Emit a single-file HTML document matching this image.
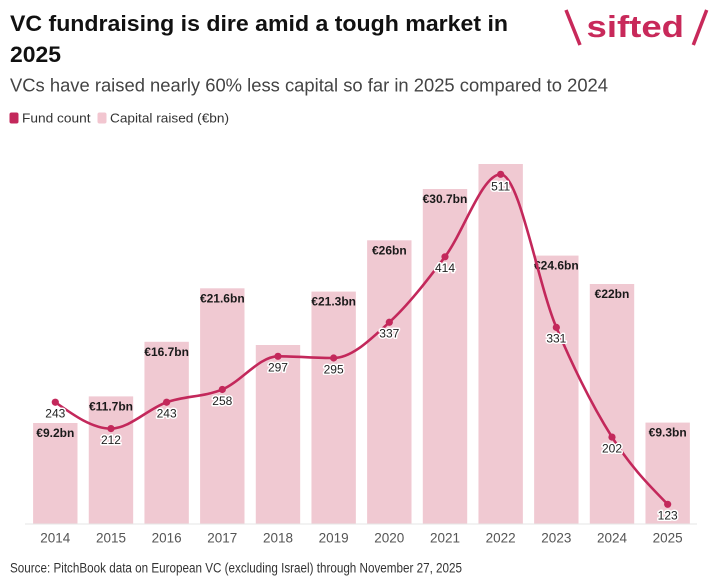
<!DOCTYPE html>
<html>
<head>
<meta charset="utf-8">
<style>
  html, body { margin: 0; padding: 0; background: #ffffff; }
  body { width: 720px; height: 578px; overflow: hidden; }
  svg { display: block; }
  text { font-family: "Liberation Sans", "DejaVu Sans", sans-serif; }
</style>
</head>
<body>
<svg width="720" height="578" viewBox="0 0 720 578" xmlns="http://www.w3.org/2000/svg">
  <rect x="0" y="0" width="720" height="578" fill="#ffffff"/>

  <!-- Title -->
  <text x="10" y="31" font-size="22" font-weight="bold" fill="#111111" textLength="498" lengthAdjust="spacingAndGlyphs">VC fundraising is dire amid a tough market in</text>
  <text x="10" y="62" font-size="22" font-weight="bold" fill="#111111" textLength="51" lengthAdjust="spacingAndGlyphs">2025</text>

  <!-- Subtitle -->
  <text x="10" y="91.7" font-size="18.5" fill="#444444" textLength="598" lengthAdjust="spacingAndGlyphs">VCs have raised nearly 60% less capital so far in 2025 compared to 2024</text>

  <!-- Legend -->
  <rect x="9.5" y="112.5" width="9" height="11" rx="2" fill="#c3285b"/>
  <text x="22" y="122.3" font-size="13" fill="#333333" textLength="68.5" lengthAdjust="spacingAndGlyphs">Fund count</text>
  <rect x="97.5" y="112.5" width="9" height="11" rx="2" fill="#f2c6d0"/>
  <text x="110" y="122.3" font-size="13" fill="#333333" textLength="119" lengthAdjust="spacingAndGlyphs">Capital raised (€bn)</text>

  <!-- Logo -->
  <line x1="566" y1="10" x2="580" y2="45" stroke="#c8295a" stroke-width="3.5" stroke-linecap="butt"/>
  <text x="586.5" y="37" font-size="31" font-weight="bold" fill="#c8295a" textLength="97.5" lengthAdjust="spacingAndGlyphs">sifted</text>
  <line x1="706.7" y1="10" x2="693.3" y2="45" stroke="#c8295a" stroke-width="3.5" stroke-linecap="butt"/>

  <!-- Bars -->
  <g fill="#f0c9d2">
    <rect x="33.1" y="423" width="44.4" height="101"/>
    <rect x="88.77" y="396.4" width="44.4" height="127.6"/>
    <rect x="144.44" y="341.8" width="44.4" height="182.2"/>
    <rect x="200.11" y="288.3" width="44.4" height="235.7"/>
    <rect x="255.78" y="345" width="44.4" height="179"/>
    <rect x="311.45" y="291.6" width="44.4" height="232.4"/>
    <rect x="367.12" y="240.3" width="44.4" height="283.7"/>
    <rect x="422.79" y="189" width="44.4" height="335"/>
    <rect x="478.46" y="164" width="44.4" height="360"/>
    <rect x="534.13" y="255.6" width="44.4" height="268.4"/>
    <rect x="589.8" y="284" width="44.4" height="240"/>
    <rect x="645.47" y="422.6" width="44.4" height="101.4"/>
  </g>

  <!-- Axis line -->
  <line x1="25" y1="524" x2="697" y2="524" stroke="#e6e6e6" stroke-width="1"/>

  <!-- Bar labels -->
  <g font-size="12" font-weight="bold" fill="#1a1a1a" text-anchor="middle">
    <text x="55.3" y="437">€9.2bn</text>
    <text x="110.97" y="410.4">€11.7bn</text>
    <text x="166.64" y="355.8">€16.7bn</text>
    <text x="222.31" y="302.3">€21.6bn</text>
    <text x="333.65" y="305.6">€21.3bn</text>
    <text x="389.32" y="254.3">€26bn</text>
    <text x="444.99" y="203">€30.7bn</text>
    <text x="556.33" y="269.6">€24.6bn</text>
    <text x="612.0" y="298">€22bn</text>
    <text x="667.67" y="436.6">€9.3bn</text>
  </g>

  <!-- Line -->
  <path d="M55.3,402.23 C73.86,415.41 92.41,428.59 110.97,428.59 C129.53,428.59 148.08,408.75 166.64,402.23 C185.2,395.71 203.75,397.13 222.31,389.47 C240.87,381.82 259.42,356.30 277.98,356.30 C296.54,356.30 315.09,358.00 333.65,358.00 C352.21,358.00 370.76,339.15 389.32,322.28 C407.88,305.41 426.43,281.46 444.99,256.79 C463.55,232.12 482.10,174.29 500.66,174.29 C519.22,174.29 537.77,283.58 556.33,327.38 C574.89,371.18 593.44,407.61 612.0,437.10 C630.56,466.59 649.11,485.44 667.67,504.29" fill="none" stroke="#c3285b" stroke-width="2.6" stroke-linejoin="round" stroke-linecap="round"/>

  <g fill="#c3285b">
    <circle cx="55.3" cy="402.23" r="3.6"/>
    <circle cx="110.97" cy="428.59" r="3.6"/>
    <circle cx="166.64" cy="402.23" r="3.6"/>
    <circle cx="222.31" cy="389.47" r="3.6"/>
    <circle cx="277.98" cy="356.30" r="3.6"/>
    <circle cx="333.65" cy="358.00" r="3.6"/>
    <circle cx="389.32" cy="322.28" r="3.6"/>
    <circle cx="444.99" cy="256.79" r="3.6"/>
    <circle cx="500.66" cy="174.29" r="3.6"/>
    <circle cx="556.33" cy="327.38" r="3.6"/>
    <circle cx="612.0" cy="437.10" r="3.6"/>
    <circle cx="667.67" cy="504.29" r="3.6"/>
  </g>

  <!-- Line labels -->
  <g font-size="12" fill="#222222" text-anchor="middle" stroke="#ffffff" stroke-width="3" stroke-linejoin="round" paint-order="stroke">
    <text x="55.3" y="417.5">243</text>
    <text x="110.97" y="443.9">212</text>
    <text x="166.64" y="417.5">243</text>
    <text x="222.31" y="404.8">258</text>
    <text x="277.98" y="371.6">297</text>
    <text x="333.65" y="373.3">295</text>
    <text x="389.32" y="337.6">337</text>
    <text x="444.99" y="272.1">414</text>
    <text x="500.66" y="190.3">511</text>
    <text x="556.33" y="342.7">331</text>
    <text x="612.0" y="452.4">202</text>
    <text x="667.67" y="519.6">123</text>
  </g>

  <!-- X axis labels -->
  <g font-size="13.5" fill="#555555" text-anchor="middle">
    <text x="55.3" y="542.5">2014</text>
    <text x="110.97" y="542.5">2015</text>
    <text x="166.64" y="542.5">2016</text>
    <text x="222.31" y="542.5">2017</text>
    <text x="277.98" y="542.5">2018</text>
    <text x="333.65" y="542.5">2019</text>
    <text x="389.32" y="542.5">2020</text>
    <text x="444.99" y="542.5">2021</text>
    <text x="500.66" y="542.5">2022</text>
    <text x="556.33" y="542.5">2023</text>
    <text x="612.0" y="542.5">2024</text>
    <text x="667.67" y="542.5">2025</text>
  </g>

  <!-- Source -->
  <text x="10" y="572.7" font-size="13.5" fill="#333333" textLength="452" lengthAdjust="spacingAndGlyphs">Source: PitchBook data on European VC (excluding Israel) through November 27, 2025</text>
</svg>
</body>
</html>
